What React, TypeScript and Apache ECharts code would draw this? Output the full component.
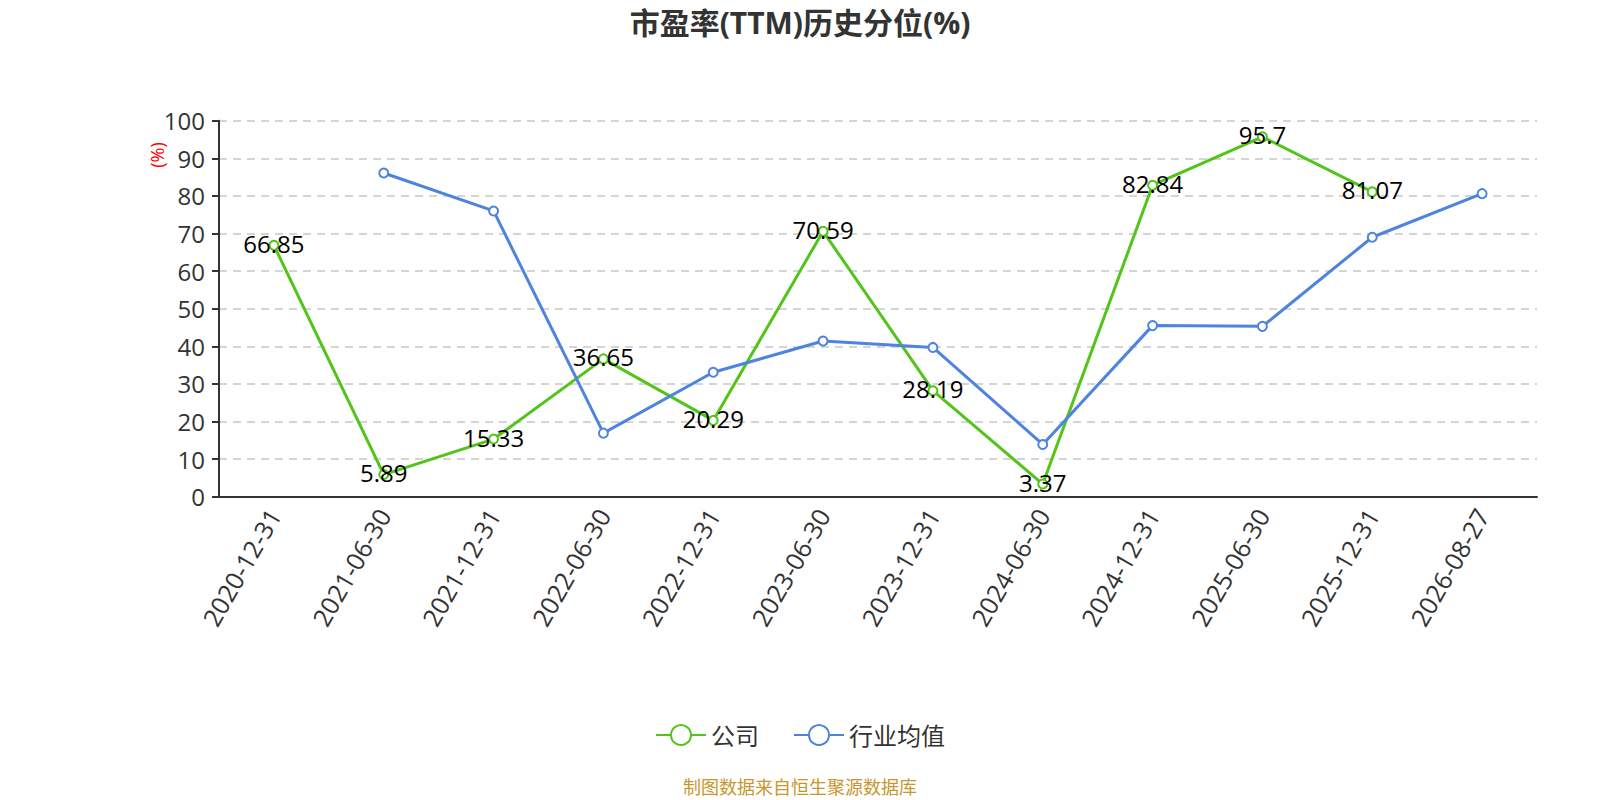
import React, { useEffect, useRef } from "react";
import * as echarts from "echarts";

const categories = [
  "2020-12-31", "2021-06-30", "2021-12-31", "2022-06-30", "2022-12-31", "2023-06-30",
  "2023-12-31", "2024-06-30", "2024-12-31", "2025-06-30", "2025-12-31", "2026-08-27",
];
const companyValues = [66.85, 5.89, 15.33, 36.65, 20.29, 70.59, 28.19, 3.37, 82.84, 95.7, 81.07, null];
const industryValues = [null, 86.1, 76.0, 16.9, 33.1, 41.4, 39.7, 13.9, 45.5, 45.3, 69.0, 80.6];
const seriesNames = ["公司", "行业均值"];
const FONT = "'Open Sans', 'Noto Sans CJK SC', sans-serif";

export default function App() {
  const ref = useRef<HTMLDivElement>(null);
  useEffect(() => {
    document.body.style.margin = "0";
    const chart = echarts.init(ref.current!, null, { renderer: "svg" });
    chart.setOption({
      animation: false,
      textStyle: { fontFamily: FONT },
      title: {
        text: "市盈率(TTM)历史分位(%)",
        left: "center",
        top: 2,
        textStyle: { fontSize: 30, fontWeight: "bold", color: "#333", fontFamily: FONT },
      },
      legend: {
        data: seriesNames,
        top: 718,
        left: "center",
        itemWidth: 50,
        itemHeight: 25,
        itemGap: 34,
        textStyle: { fontSize: 24, color: "#333", fontFamily: FONT },
      },
      grid: { left: 219, right: 63, top: 120.7, bottom: 303.3, containLabel: false },
      xAxis: {
        type: "category",
        data: categories,
        boundaryGap: true,
        axisLine: { lineStyle: { color: "#333", width: 2 } },
        axisTick: { alignWithLabel: false, length: 7, lineStyle: { color: "#333", width: 2 } },
        axisLabel: { rotate: 60, fontSize: 25, color: "#333", margin: 14, interval: 0, fontFamily: FONT },
      },
      yAxis: {
        type: "value",
        min: 0,
        max: 100,
        interval: 10,
        axisLine: { show: true, lineStyle: { color: "#333", width: 2 } },
        axisTick: { show: true, length: 7, lineStyle: { color: "#333", width: 2 } },
        axisLabel: { fontSize: 24, color: "#333", margin: 14, fontFamily: FONT },
        splitLine: { lineStyle: { type: [8, 6], color: "#c8c8c8", width: 1.5 } },
      },
      graphic: [
        {
          type: "text",
          x: 157,
          y: 155,
          rotation: Math.PI / 2,
          style: {
            text: "(%)",
            fill: "#ff0000",
            fontSize: 18,
            fontFamily: FONT,
            textAlign: "center",
            textVerticalAlign: "middle",
          },
        },
        {
          type: "text",
          left: "center",
          top: 777,
          style: {
            text: "制图数据来自恒生聚源数据库",
            fill: "#c8962e",
            fontSize: 18,
            fontFamily: "'Noto Sans CJK SC', sans-serif",
          },
        },
      ],
      series: [
        {
          name: seriesNames[0],
          type: "line",
          data: companyValues,
          symbol: "emptyCircle",
          symbolSize: 9,
          connectNulls: false,
          itemStyle: { color: "#52c41a" },
          lineStyle: { width: 3, color: "#52c41a" },
          label: {
            show: true,
            position: "inside",
            offset: [0, -2],
            fontSize: 24,
            color: "#000",
            fontFamily: FONT,
          },
        },
        {
          name: seriesNames[1],
          type: "line",
          data: industryValues,
          symbol: "emptyCircle",
          symbolSize: 9,
          itemStyle: { color: "#4e83e0" },
          lineStyle: { width: 3, color: "#4e83e0" },
        },
      ],
    });
    return () => chart.dispose();
  }, []);
  return <div ref={ref} style={{ width: 1600, height: 800 }} />;
}
